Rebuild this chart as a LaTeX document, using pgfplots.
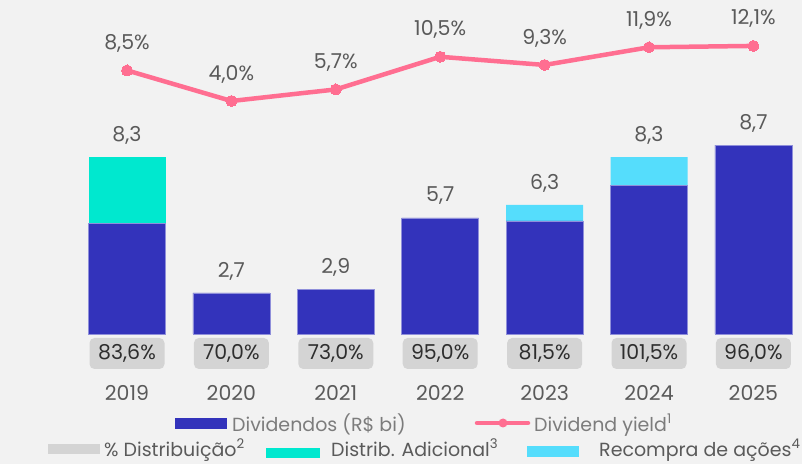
\documentclass[border=0pt]{standalone}
\usepackage{fontspec}
\setmainfont{Poppins}
\usepackage{pgfplots}
\pgfplotsset{compat=1.18}
\definecolor{bgc}{HTML}{F2F2F2}
\definecolor{divblue}{HTML}{3333BB}
\definecolor{tealc}{HTML}{00E8CF}
\definecolor{cyanc}{HTML}{55DDFC}
\definecolor{pinkc}{HTML}{FF6E91}
\definecolor{boxgray}{HTML}{D4D4D4}
\definecolor{txtgray}{HTML}{5A5A5A}
\definecolor{txtlight}{HTML}{7C7C7C}
\definecolor{txtdark}{HTML}{2E2E2E}
\newcommand\f{\fontsize{20.5bp}{22bp}\selectfont}
\newcommand\lf{\fontsize{19bp}{21bp}\selectfont}
\begin{document}
\begin{tikzpicture}
\fill[bgc] (0,0) rectangle (802bp,464bp);
\useasboundingbox (0,0) rectangle (802bp,464bp);
% bars
\begin{axis}[at={(64.36bp,130bp)}, anchor=south west, scale only axis,
  width=751.68bp, height=215bp, xmin=-0.6, xmax=6.6, ymin=0, ymax=10,
  axis lines=none, ybar stacked, bar width=77bp, clip=false]
\addplot[fill=divblue, draw=divblue!55!white, line width=0.5bp] coordinates {(0,5.16)(1,1.91)(2,2.09)(3,5.40)(4,5.26)(5,6.93)(6,8.79)};
\addplot[fill=tealc, draw=none] coordinates {(0,3.07)(1,0)(2,0)(3,0)(4,0)(5,0)(6,0)};
\addplot[fill=cyanc, draw=none] coordinates {(0,0)(1,0)(2,0)(3,0)(4,0.74)(5,1.30)(6,0)};
\end{axis}
% labels
\begin{axis}[at={(64.36bp,130bp)}, anchor=south west, scale only axis,
  width=751.68bp, height=215bp, xmin=-0.6, xmax=6.6, ymin=0, ymax=10,
  axis lines=none, clip=false]
\addplot[only marks, mark=none, nodes near coords, point meta=explicit symbolic,
  every node near coord/.style={font=\f, text=txtgray, anchor=center, yshift=22bp}]
  table[meta=label]{
x y label
0 8.23 8,3
1 1.91 2,7
2 2.09 2,9
3 5.40 5,7
4 6.00 6,3
5 8.23 8,3
6 8.79 8,7
};
\addplot[only marks, mark=none, nodes near coords, point meta=explicit symbolic,
  every node near coord/.style={font=\f, text=txtdark, fill=boxgray, rounded corners=5bp,
  minimum width=75bp, minimum height=31bp, inner sep=0pt, anchor=center, yshift=-19.5bp}]
  table[meta=label]{
x y label
0 0 83,6\%
1 0 70,0\%
2 0 73,0\%
3 0 95,0\%
4 0 81,5\%
5 0 101,5\%
6 0 96,0\%
};
\addplot[only marks, mark=none, nodes near coords, point meta=explicit symbolic,
  every node near coord/.style={font=\f, text=txtgray, anchor=center, yshift=-59bp}]
  table[meta=label]{
x y label
0 0 2019
1 0 2020
2 0 2021
3 0 2022
4 0 2023
5 0 2024
6 0 2025
};
\end{axis}
% line
\begin{axis}[at={(64.36bp,335.8bp)}, anchor=south west, scale only axis,
  width=751.68bp, height=95.2bp, xmin=-0.6, xmax=6.6, ymin=0, ymax=14,
  axis lines=none, clip=false]
\addplot[pinkc, line width=4.5bp, mark=*, mark size=5.5bp,
  mark options={line width=0pt, fill=pinkc},
  nodes near coords, point meta=explicit symbolic,
  every node near coord/.style={font=\f, text=txtgray, anchor=center, yshift=27bp}]
  table[meta=label]{
x y label
0 8.5 8,5\%
1 4.0 4,0\%
2 5.7 5,7\%
3 10.5 10,5\%
4 9.3 9,3\%
5 11.9 11,9\%
6 12.1 12,1\%
};
\end{axis}
% legend
\fill[divblue] (175bp,34.5bp) rectangle (227bp,45.5bp);
\node[anchor=base west, font=\lf, text=txtlight, inner sep=0pt] at (232bp,33bp) {Dividendos (R\$ bi)};
\draw[pinkc, line width=4.5bp, line cap=round] (477bp,41bp) -- (528bp,41bp);
\fill[pinkc] (503bp,41bp) circle (4.5bp);
\node[anchor=base west, font=\lf, text=txtlight, inner sep=0pt] at (534bp,33bp) {Dividend yield\textsuperscript{1}};
\fill[boxgray] (48bp,10bp) rectangle (100bp,19.5bp);
\node[anchor=base west, font=\lf, text=txtgray, inner sep=0pt] at (104bp,8bp) {\% Distribuição\textsuperscript{2}};
\fill[tealc] (266bp,6bp) rectangle (320bp,16bp);
\node[anchor=base west, font=\lf, text=txtgray, inner sep=0pt] at (331bp,8bp) {Distrib. Adicional\textsuperscript{3}};
\fill[cyanc] (527bp,7bp) rectangle (579bp,18bp);
\node[anchor=base west, font=\lf, text=txtgray, inner sep=0pt] at (599bp,8bp) {Recompra de ações\textsuperscript{4}};
\end{tikzpicture}
\end{document}
